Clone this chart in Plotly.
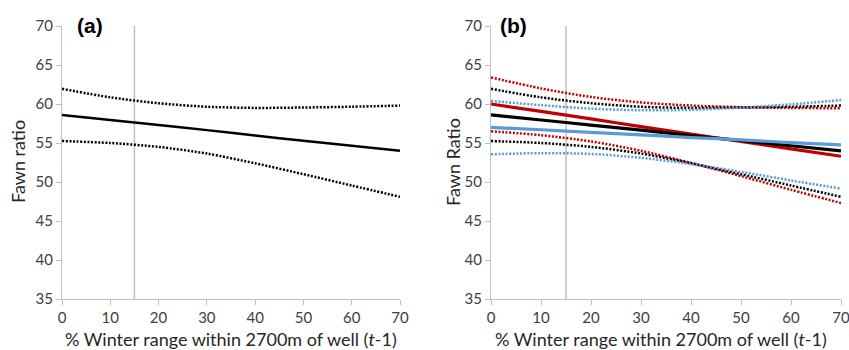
import plotly.graph_objects as go

x_vals = [0, 10, 20, 30, 40, 50, 60, 70]

# Panel (a) / black series
black_mean = [58.6, 57.95, 57.3, 56.65, 55.95, 55.3, 54.65, 54.0]
black_upper = [61.95, 60.85, 60.1, 59.65, 59.5, 59.55, 59.65, 59.8]
black_lower = [55.25, 55.0, 54.5, 53.65, 52.4, 51.0, 49.55, 48.1]

# Panel (b) red series
red_mean = [60.0, 59.05, 58.1, 57.1, 56.15, 55.2, 54.25, 53.3]
red_upper = [63.4, 62.0, 60.9, 60.2, 59.8, 59.6, 59.5, 59.45]
red_lower = [56.5, 56.0, 55.2, 54.0, 52.45, 50.75, 49.0, 47.3]

# Panel (b) blue series
blue_mean = [57.0, 56.7, 56.35, 56.05, 55.7, 55.4, 55.05, 54.75]
blue_upper = [60.4, 59.85, 59.4, 59.2, 59.25, 59.55, 59.95, 60.5]
blue_lower = [53.55, 53.7, 53.6, 53.1, 52.3, 51.3, 50.2, 49.15]

threshold_x = 15
x_ticks = [0, 10, 20, 30, 40, 50, 60, 70]
y_ticks = [35, 40, 45, 50, 55, 60, 65, 70]

BLACK = "#000000"
RED = "#c00000"
BLUE = "#5b9bd5"
GRAY = "#bfbfbf"
FONT = "Lato"
DOT = "2px,1.6px"

fig = go.Figure()

def add(xa, ya, y, color, width, dash):
    fig.add_trace(go.Scatter(x=x_vals, y=y, mode="lines", xaxis=xa, yaxis=ya,
                             line=dict(color=color, width=width, dash=dash, shape="spline", smoothing=0.8),
                             showlegend=False, hoverinfo="skip"))

# threshold lines
for xa, ya in [("x", "y"), ("x2", "y2")]:
    fig.add_trace(go.Scatter(x=[threshold_x, threshold_x], y=[35, 70], mode="lines", xaxis=xa, yaxis=ya,
                             line=dict(color=GRAY, width=1.5), showlegend=False, hoverinfo="skip"))

# Panel a
add("x", "y", black_upper, BLACK, 2.5, DOT)
add("x", "y", black_lower, BLACK, 2.5, DOT)
add("x", "y", black_mean, BLACK, 2.5, "solid")

# Panel b
for up, lo, c in [(red_upper, red_lower, RED), (black_upper, black_lower, BLACK), (blue_upper, blue_lower, BLUE)]:
    add("x2", "y2", up, c, 2.5, DOT)
    add("x2", "y2", lo, c, 2.5, DOT)
add("x2", "y2", red_mean, RED, 3.2, "solid")
add("x2", "y2", black_mean, BLACK, 3.2, "solid")
add("x2", "y2", blue_mean, BLUE, 3.2, "solid")

W, H = 849, 350
xa_dom = [62 / W, 400 / W]
xb_dom = [491 / W, 841 / W]

axis_common = dict(showline=True, linecolor=GRAY, linewidth=1.3, ticks="outside", ticklen=5,
                   tickcolor=GRAY, tickwidth=1.3, showgrid=False, zeroline=False,
                   tickfont=dict(family=FONT, size=15, color="#404040"), automargin=False,
                   ticklabeloverflow="allow")

fig.update_layout(
    width=W, height=H, margin=dict(l=0, r=0, t=26, b=51),
    paper_bgcolor="white", plot_bgcolor="white",
    xaxis=dict(domain=xa_dom, range=[0, 70], tickvals=x_ticks, anchor="y", **axis_common),
    yaxis=dict(domain=[0, 1], range=[35, 70], tickvals=y_ticks, anchor="x", **axis_common),
    xaxis2=dict(domain=xb_dom, range=[0, 70], tickvals=x_ticks, anchor="y2", **axis_common),
    yaxis2=dict(domain=[0, 1], range=[35, 70], tickvals=y_ticks, anchor="x2", **axis_common),
)

def px_y(py):
    return 1 - (py - 26) / (H - 26 - 51)

title_font = dict(family=FONT, size=18, color="#262626")
annotations = [
    dict(text="<b>(a)</b>", x=75 / W, y=px_y(25), xref="paper", yref="paper", xanchor="left", yanchor="middle",
         showarrow=False, font=dict(family="Liberation Sans", size=21, color="#000000")),
    dict(text="<b>(b)</b>", x=498 / W, y=px_y(25), xref="paper", yref="paper", xanchor="left", yanchor="middle",
         showarrow=False, font=dict(family="Liberation Sans", size=21, color="#000000")),
    dict(text="% Winter range within 2700m of well (<i>t</i>-1)", x=231 / W, y=px_y(339), xref="paper", yref="paper",
         xanchor="center", yanchor="middle", showarrow=False, font=title_font),
    dict(text="% Winter range within 2700m of well (<i>t</i>-1)", x=661 / W, y=px_y(339), xref="paper", yref="paper",
         xanchor="center", yanchor="middle", showarrow=False, font=title_font),
    dict(text="Fawn ratio", x=18 / W, y=px_y(162), xref="paper", yref="paper", textangle=-90,
         xanchor="center", yanchor="middle", showarrow=False, font=title_font),
    dict(text="Fawn Ratio", x=453 / W, y=px_y(162), xref="paper", yref="paper", textangle=-90,
         xanchor="center", yanchor="middle", showarrow=False, font=title_font),
]
fig.update_layout(annotations=annotations)

fig.write_html("out.html")
